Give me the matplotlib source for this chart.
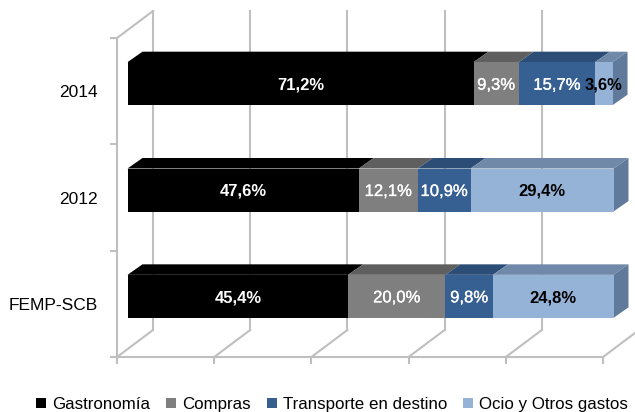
import matplotlib
matplotlib.use("Agg")
import matplotlib.pyplot as plt
import matplotlib.patheffects as pe
from matplotlib.patches import Polygon, Patch

plt.rcParams["font.family"] = ["Liberation Sans", "DejaVu Sans"]

categories = ["FEMP-SCB", "2012", "2014"]
series = ["Gastronomía", "Compras", "Transporte en destino", "Ocio y Otros gastos"]
gastronomia = [45.4, 47.6, 71.2]
compras = [20.0, 12.1, 9.3]
transporte = [9.8, 10.9, 15.7]
ocio = [24.8, 29.4, 3.6]
values = [gastronomia, compras, transporte, ocio]

FRONT = ["#000000", "#7f7f7f", "#376092", "#95b3d7"]
TOP = ["#000000", "#5f5f5f", "#2c4d75", "#7089a8"]
SIDE = ["#000000", "#5f5f5f", "#2c4d75", "#5f7a9a"]
TXT = ["white", "white", "white", "black"]
WEIGHT = ["bold", "normal", "normal", "bold"]
GRID = "#bfbfbf"

W, H = 635, 412
L, R, T, B = 117, 603, 38, 357   # front plane of the chart, in pixels
px = 100 / (R - L)               # data units per pixel
py = 3 / (B - T)

fig = plt.figure(figsize=(W / 100, H / 100), dpi=100)
ax = fig.add_axes([L / W, (H - B) / H, (R - L) / W, (B - T) / H])
ax.set_xlim(0, 100)
ax.set_ylim(0, 3)
ax.patch.set_visible(False)

# 3D box: back wall + floor
wall_dx, wall_dy = 36 * px, 27 * py
ax.plot([0, wall_dx], [3, 3 + wall_dy], color=GRID, lw=1.5, clip_on=False, zorder=1)
for t in range(0, 101, 20):
    ax.plot([t, t + wall_dx], [0, wall_dy], color=GRID, lw=1.5, clip_on=False, zorder=1)
    if t < 100:
        ax.plot([t + wall_dx] * 2, [wall_dy, 3 + wall_dy], color=GRID, lw=1.5,
                clip_on=False, zorder=1)

# bars: front face offset into the box, top and side faces from the depth
off_x, off_y = 10.5 * px, 7.5 * py
d_x, d_y = 15 * px, 10.5 * py
bar_h = 43 * py

for row in range(len(categories)):
    left = off_x
    yc = row + 0.5 + off_y
    y0, y1 = yc - bar_h / 2, yc + bar_h / 2
    for s in range(len(series)):
        v = values[s][row]
        ax.barh(yc, v, left=left, height=bar_h, color=FRONT[s], clip_on=False, zorder=3)
        ax.add_patch(Polygon([(left, y1), (left + v, y1), (left + v + d_x, y1 + d_y),
                              (left + d_x, y1 + d_y)], closed=True, fc=TOP[s], ec="none",
                             clip_on=False, zorder=2))
        lab = ax.text(left + v / 2, yc - 1.5 * py, f"{v:.1f}%".replace(".", ","),
                      ha="center", va="center", color=TXT[s], fontsize=12,
                      fontweight=WEIGHT[s], clip_on=False, zorder=5)
        if WEIGHT[s] == "normal":
            lab.set_path_effects([pe.withStroke(linewidth=0.2, foreground=TXT[s])])
        left += v
    # right end of the stack
    ax.add_patch(Polygon([(left, y0), (left, y1), (left + d_x, y1 + d_y), (left + d_x, y0 + d_y)],
                         closed=True, fc=SIDE[-1], ec="none", clip_on=False, zorder=2))

for side in ["top", "right"]:
    ax.spines[side].set_visible(False)
for side in ["left", "bottom"]:
    ax.spines[side].set_color(GRID)
    ax.spines[side].set_linewidth(1.5)

ax.set_xticks(range(0, 101, 20))
ax.set_xticklabels([])
ax.set_yticks([0, 1, 2, 3])
ax.set_yticklabels([])
ax.set_yticks([0.5, 1.5, 2.5], categories, minor=True)
ax.tick_params(axis="both", which="major", color=GRID, width=1.5, length=5)
ax.tick_params(axis="y", which="minor", length=0, pad=14, labelsize=12.5)

handles = [Patch(fc=c, ec="none") for c in FRONT]
fig.legend(handles, series, loc="lower left", bbox_to_anchor=(30.5 / W, -5 / H), ncol=4,
           frameon=False, fontsize=12.2, handlelength=0.6, handleheight=0.6,
           handletextpad=0.35, columnspacing=0.95, borderpad=0.3, borderaxespad=0)

fig.savefig("out.png", dpi=100)
